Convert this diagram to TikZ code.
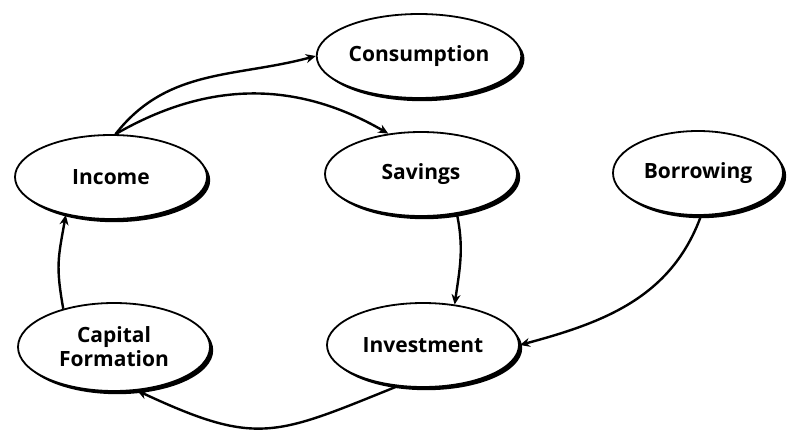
\documentclass[tikz,border=0pt]{standalone}
\usepackage{fontspec}
\setmainfont{Open Sans}
\usetikzlibrary{arrows.meta, shapes.geometric, shadows}

\begin{document}
\begin{tikzpicture}[x=0.5pt, y=0.5pt, >={Stealth[length=5pt, width=4.5pt]},
    sector/.style={ellipse, draw, line width=0.9pt, fill=white,
      minimum width=96pt, minimum height=42pt, inner sep=1pt, align=center,
      font=\bfseries\fontsize{10.5}{12}\selectfont,
      drop shadow={shadow xshift=1.6pt, shadow yshift=-1.6pt, fill=black, opacity=1}},
    flow/.style={->, line width=1.2pt}]
      \useasboundingbox (0, 0) rectangle (789, 430);

      \node[sector] (cons) at (419, 374) {Consumption};
      \node[sector] (sav) at (421, 256) {Savings};
      \node[sector, minimum width=85pt] (bor) at (698, 257) {Borrowing};
      \node[sector] (inc) at (111, 253) {Income};
      \node[sector, minimum height=44pt] (cap) at (114, 83) {Capital\\Formation};
      \node[sector] (inv) at (423, 85) {Investment};

      \draw[flow] (inc.84) to[out=52, in=195] (cons.west);
      \draw[flow] (inc.84) to[out=30, in=150] (sav.129);
      \draw[flow] (sav.-48) to[out=-78, in=82] (inv.52);
      \draw[flow] (bor.-86) to[out=-110, in=15] (inv.east);
      \draw[flow] (inv.-122) to[out=-158, in=-25, looseness=1.3] (cap.-62);
      \draw[flow] (cap.143) to[out=100, in=-100, looseness=1.2] (inc.-140);
    \end{tikzpicture}
\end{document}
